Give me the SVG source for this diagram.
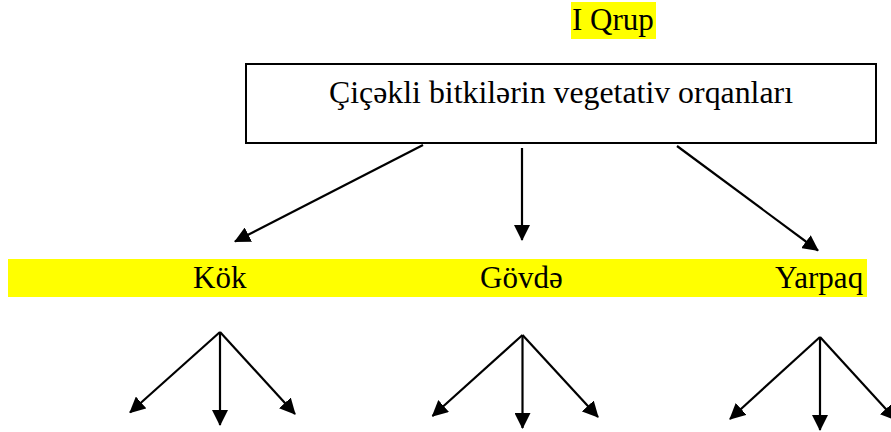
<svg xmlns="http://www.w3.org/2000/svg" width="891" height="432" viewBox="0 0 891 432">
  <style>
    .t { font-family: "Liberation Serif", "Times New Roman", serif; font-size: 31px; fill: #000; }
    .hl { fill: #ffff00; }
    .box { fill: #fff; stroke: #000; stroke-width: 2; }
    .c { stroke: #000; stroke-width: 2.2; fill: none; marker-end: url(#ah); }
  </style>
  <defs>
    <marker id="ah" markerUnits="userSpaceOnUse" viewBox="0 0 16 16" markerWidth="16" markerHeight="16" refX="15" refY="8" orient="auto">
      <path d="M0,0 L16,8 L0,16 z" fill="#000"/>
    </marker>
  </defs>
  <rect width="891" height="432" fill="#fff"/>

  <g id="title">
    <rect class="hl" x="571" y="2" width="85" height="37"/>
    <text class="t" x="572" y="29.5">I Qrup</text>
  </g>

  <g id="root">
    <rect class="box" x="246" y="64" width="630" height="79"/>
    <text class="t" x="329" y="103" style="font-size:32px" textLength="464" lengthAdjust="spacingAndGlyphs">Çiçəkli bitkilərin vegetativ orqanları</text>
  </g>

  <g id="band">
    <rect class="hl" x="8" y="259" width="859" height="38"/>
  </g>
  <g id="kok">
    <text class="t" x="193" y="288">Kök</text>
  </g>
  <g id="govde">
    <text class="t" x="480" y="288">Gövdə</text>
  </g>
  <g id="yarpaq">
    <text class="t" x="775" y="288">Yarpaq</text>
  </g>

  <g id="connectors">
    <line class="c" x1="423" y1="145" x2="235" y2="241.5"/>
    <line class="c" x1="522" y1="148" x2="522" y2="240"/>
    <line class="c" x1="677" y1="146" x2="818" y2="250.5"/>

    <line class="c" x1="220" y1="332" x2="130" y2="412.5"/>
    <line class="c" x1="220" y1="332" x2="220" y2="425"/>
    <line class="c" x1="220" y1="332" x2="295" y2="414"/>

    <line class="c" x1="522.5" y1="335" x2="432.5" y2="416"/>
    <line class="c" x1="522.5" y1="335" x2="522.5" y2="428"/>
    <line class="c" x1="522.5" y1="335" x2="598" y2="417"/>

    <line class="c" x1="820" y1="337" x2="730" y2="419"/>
    <line class="c" x1="820" y1="337" x2="820" y2="430"/>
    <line class="c" x1="820" y1="337" x2="896" y2="420"/>
  </g>
</svg>
